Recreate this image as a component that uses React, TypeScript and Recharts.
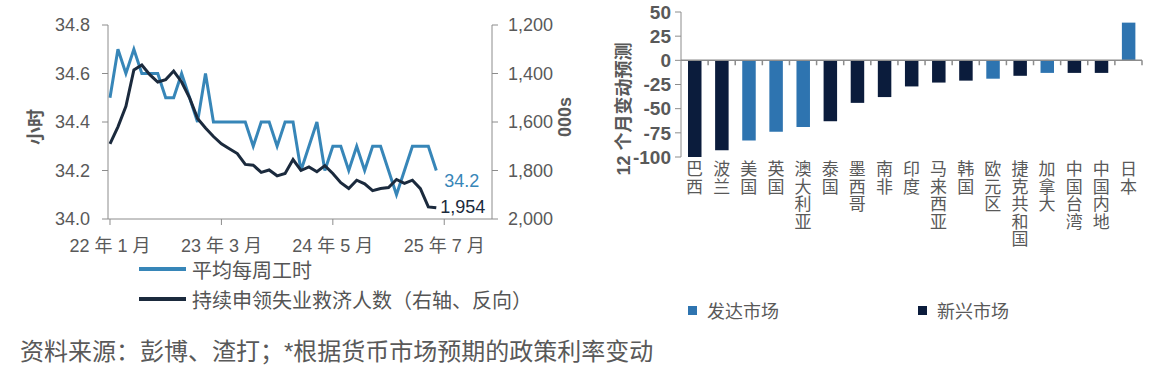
import { LineChart, Line, XAxis, YAxis, Legend, LabelList, BarChart, Bar, Cell, ReferenceLine } from "recharts"

const FONT = '"Liberation Sans", Arial, "Noto Sans CJK SC", sans-serif'
const AXIS = "#8c8c8c"
const TEXT = "#595959"
const BLUE = "#3786b8"
const NAVY = "#1b2a3d"
const DEV = "#2e74b0"
const EM = "#0b1c3c"

// left chart: monthly, 22年1月 = index 0
const hours = [
  34.5, 34.7, 34.6, 34.7, 34.6, 34.6, 34.6, 34.5, 34.5, 34.6,
  34.5, 34.4, 34.6, 34.4, 34.4, 34.4, 34.4, 34.4, 34.3, 34.4,
  34.4, 34.3, 34.4, 34.4, 34.2, 34.3, 34.4, 34.2, 34.3, 34.3,
  34.2, 34.3, 34.2, 34.3, 34.3, 34.2, 34.1, 34.2, 34.3, 34.3,
  34.3, 34.2,
]
const claims = [
  1690, 1620, 1535, 1385, 1365, 1405, 1435, 1425, 1390, 1435,
  1500, 1585, 1625, 1660, 1690, 1710, 1730, 1775, 1778, 1808,
  1798, 1822, 1812, 1755, 1800, 1785, 1805, 1780, 1812, 1850,
  1874, 1840, 1855, 1883, 1874, 1870, 1837, 1853, 1840, 1875,
  1950, 1954,
]
const xTicks = [0, 14, 28, 42]
const xTickLabels = ["22 年 1 月", "23 年 3 月", "24 年 5 月", "25 年 7 月"]
const hoursTicks = [34.0, 34.2, 34.4, 34.6, 34.8]
const claimsTicks = [1200, 1400, 1600, 1800, 2000]

// right chart
const countries = [
  "巴西", "波兰", "美国", "英国", "澳大利亚", "泰国", "墨西哥", "南非", "印度",
  "马来西亚", "韩国", "欧元区", "捷克共和国", "加拿大", "中国台湾", "中国内地", "日本",
]
const rateChange = [-100, -93, -83, -74, -69, -63, -44, -38, -27, -23, -21, -19, -16, -13, -13, -13, 39]
const market = ["em", "em", "dev", "dev", "dev", "em", "em", "em", "em", "em", "em", "dev", "em", "dev", "em", "em", "dev"]
const marketGroups = [
  { key: "dev", name: "发达市场", color: DEV },
  { key: "em", name: "新兴市场", color: EM },
]
const rateTicks = [-100, -75, -50, -25, 0, 25, 50]

const lineData = hours.map((h, i) => ({ i, hours: h, claims: claims[i] }))
const barData = countries.map((name, i) => ({ name, value: rateChange[i], market: market[i] }))
const last = lineData.length - 1

function AxisTitle({ viewBox, text, dx, dy }: any) {
  const cx = viewBox.x + dx
  const cy = viewBox.y + viewBox.height / 2 + dy
  return (
    <text x={cx} y={cy} transform={`rotate(-90 ${cx} ${cy})`} textAnchor="middle" dominantBaseline="central"
      fill={TEXT} fontSize={18} fontWeight="bold" fontFamily={FONT}>
      {text}
    </text>
  )
}

const endLabel = (color: string, fmt: (v: number) => string, dx: number, dy: number) => (props: any) => {
  if (props.index !== last) return <g />
  const x = props.x ?? props.viewBox?.x
  const y = props.y ?? props.viewBox?.y
  return (
    <text x={x + dx} y={y + dy} dominantBaseline="central" fill={color} fontSize={18} fontFamily={FONT}>
      {fmt(props.value)}
    </text>
  )
}

function VerticalTick({ x, y, payload }: any) {
  const chars = Array.from(String(payload.value))
  return (
    <text x={x} y={y} textAnchor="middle" fill={TEXT} fontSize={17} fontFamily={FONT}>
      {chars.map((c, k) => (
        <tspan key={k} x={x} dy={k === 0 ? 15 : 17.5}>{c}</tspan>
      ))}
    </text>
  )
}

// zero line with Excel-style tick marks between categories
const zeroAxis = (props: any) => {
  const { x1, y1, x2 } = props
  const n = countries.length
  const step = (x2 - x1) / n
  let d = `M${x1},${y1}H${x2}`
  for (let k = 1; k <= n; k++) d += `M${x1 + k * step},${y1}v5`
  return <path d={d} stroke={AXIS} strokeWidth={1.5} fill="none" />
}

export default function App() {
  return (
    <div style={{ position: "absolute", left: 0, top: 0, width: 1156, height: 366, background: "#fff", fontFamily: FONT }}>
      <div style={{ position: "absolute", left: 0, top: 0 }}>
        <LineChart width={580} height={366} data={lineData} margin={{ top: 25, right: 0, bottom: 117, left: 0 }}>
          <XAxis dataKey="i" type="number" domain={[-0.25, 48]} ticks={xTicks} height={30}
            tickFormatter={(v: number) => xTickLabels[xTicks.indexOf(v)]}
            stroke={AXIS} tickSize={6} tickMargin={14} tick={{ fill: TEXT, fontSize: 18 }} />
          <YAxis yAxisId="l" domain={[34, 34.8]} ticks={hoursTicks} width={108} stroke={AXIS}
            tickFormatter={(v: number) => v.toFixed(1)} tickSize={6} tickMargin={12}
            tick={{ fill: TEXT, fontSize: 18 }}
            label={<AxisTitle text="小时" dx={36} dy={5} />} />
          <YAxis yAxisId="r" orientation="right" reversed domain={[1200, 2000]} ticks={claimsTicks} width={88}
            stroke={AXIS} tickFormatter={(v: number) => v.toLocaleString("en-US")} tickSize={6} tickMargin={10}
            tick={{ fill: TEXT, fontSize: 18 }}
            label={<AxisTitle text="000s" dx={73} dy={-5} />} />
          <Line yAxisId="l" dataKey="hours" name="平均每周工时" stroke={BLUE} strokeWidth={3} dot={false}
            isAnimationActive={false}>
            <LabelList dataKey="hours" content={endLabel(BLUE, (v) => v.toFixed(1), 8, 10)} />
          </Line>
          <Line yAxisId="r" dataKey="claims" name="持续申领失业救济人数（右轴、反向）" stroke={NAVY} strokeWidth={3}
            dot={false} isAnimationActive={false}>
            <LabelList dataKey="claims" content={endLabel(NAVY, (v) => v.toLocaleString("en-US"), 4, -1)} />
          </Line>
          <Legend layout="horizontal" verticalAlign="middle" align="center"
            wrapperStyle={{ left: 139, top: 254, width: 430 }}
            content={({ payload }: any) => (
              <div>
                {(payload || []).map((e: any) => (
                  <div key={e.value} style={{ display: "flex", alignItems: "center", height: 30 }}>
                    <span style={{ display: "inline-block", width: 47, height: 4, background: e.color }} />
                    <span style={{ marginLeft: 6, fontSize: 20, color: "#555" }}>{e.value}</span>
                  </div>
                ))}
              </div>
            )} />
        </LineChart>
      </div>
      <div style={{ position: "absolute", left: 600, top: 0 }}>
        <BarChart width={556} height={366} data={barData} barSize={13.5}
          margin={{ top: 12, right: 14, bottom: 109, left: 0 }}>
          <XAxis dataKey="name" interval={0} height={100} axisLine={false} tickLine={false}
            tickSize={0} tickMargin={3} tick={<VerticalTick />} />
          <YAxis domain={[-100, 50]} ticks={rateTicks} interval={0} width={81} stroke={AXIS} tickSize={6} tickMargin={4}
            tick={{ fill: TEXT, fontSize: 19, fontWeight: "bold" }}
            label={<AxisTitle text="12 个月变动预测" dx={24} dy={24.5} />} />
          <Bar dataKey="value" isAnimationActive={false}>
            {barData.map((d) => (
              <Cell key={d.name} fill={d.market === "dev" ? DEV : EM} />
            ))}
          </Bar>
          <ReferenceLine y={0} shape={zeroAxis} />
          <Legend layout="horizontal" verticalAlign="middle" align="center"
            wrapperStyle={{ left: 88, top: 300, width: 460 }}
            content={() => (
              <div style={{ display: "flex" }}>
                {marketGroups.map((g) => (
                  <div key={g.key} style={{ display: "flex", alignItems: "center", width: 233, height: 20 }}>
                    <span style={{ display: "inline-block", width: 9, height: 9, background: g.color }} />
                    <span style={{ marginLeft: 10, fontSize: 18, color: TEXT }}>{g.name}</span>
                  </div>
                ))}
              </div>
            )} />
        </BarChart>
      </div>
      <div style={{ position: "absolute", left: 20, top: 338, fontSize: 24, lineHeight: "28px", color: TEXT, whiteSpace: "nowrap" }}>
        资料来源：彭博、渣打；*根据货币市场预期的政策利率变动
      </div>
    </div>
  )
}
